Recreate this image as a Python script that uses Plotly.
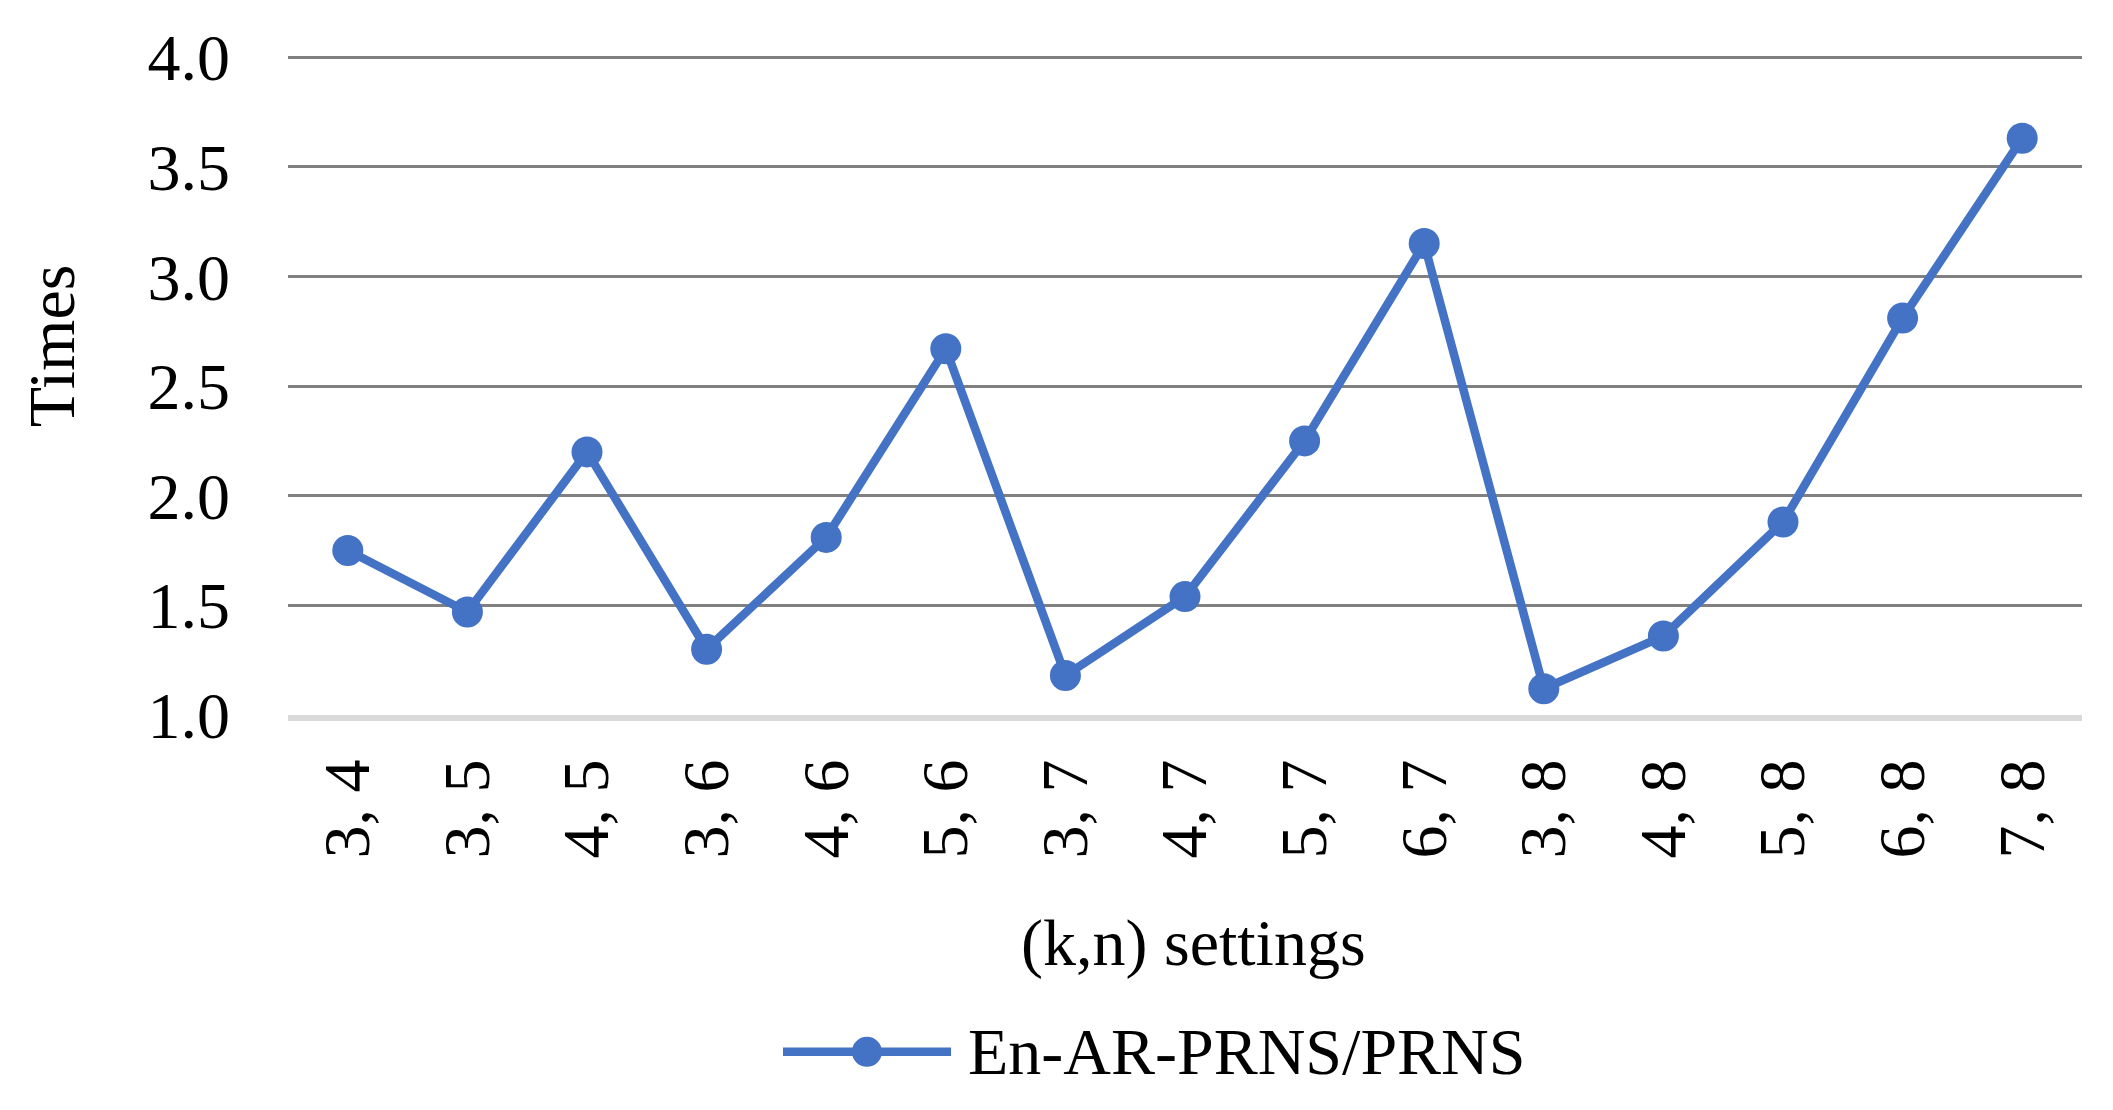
import plotly.graph_objects as go

categories = ["3, 4", "3, 5", "4, 5", "3, 6", "4, 6", "5, 6", "3, 7", "4, 7",
              "5, 7", "6, 7", "3, 8", "4, 8", "5, 8", "6, 8", "7, 8"]
ratio = [1.75, 1.47, 2.20, 1.30, 1.81, 2.67, 1.18, 1.54,
         2.25, 3.15, 1.12, 1.36, 1.88, 2.81, 3.63]
series_name = "En-AR-PRNS/PRNS"
y_ticks = [1.0, 1.5, 2.0, 2.5, 3.0, 3.5, 4.0]

FONT = "Liberation Serif, Times New Roman, serif"
BLUE = "#4472C4"

fig = go.Figure()
fig.add_trace(go.Scatter(
    x=categories, y=ratio, name=series_name, mode="lines+markers",
    line=dict(color=BLUE, width=8.5),
    marker=dict(color=BLUE, size=31),
    showlegend=False,
))

# Manual legend (bigger symbol than Plotly's native legend allows)
LEG_Y = -0.5104
fig.add_shape(type="line", xref="paper", yref="paper", x0=0.2759, x1=0.3696,
              y0=LEG_Y, y1=LEG_Y, line=dict(color=BLUE, width=8.5))
fig.add_shape(type="circle", xref="paper", yref="paper", xsizemode="pixel",
              ysizemode="pixel", xanchor=0.3227, yanchor=LEG_Y,
              x0=-15, x1=15, y0=-15, y1=15,
              fillcolor=BLUE, line=dict(color=BLUE, width=0))
fig.add_annotation(text=series_name, xref="paper", yref="paper", x=0.3779,
                   y=LEG_Y, xanchor="left", yanchor="middle", showarrow=False,
                   font=dict(size=66))

# Axis titles
fig.add_annotation(text="(k,n) settings", xref="paper", yref="paper", x=0.505,
                   y=-0.345, xanchor="center", yanchor="middle", showarrow=False,
                   font=dict(size=66))
fig.add_annotation(text="Times", xref="paper", yref="paper", x=-0.132,
                   y=0.559, xanchor="center", yanchor="middle", showarrow=False,
                   textangle=-90, font=dict(size=66))

fig.update_layout(
    width=2105, height=1102,
    margin=dict(l=280, r=31, t=47, b=395),
    paper_bgcolor="white", plot_bgcolor="white",
    font=dict(family=FONT, size=66, color="black"),
    showlegend=False,
    xaxis=dict(
        type="category", range=[-0.5, len(categories) - 0.5],
        tickangle=-90, showgrid=False, automargin=False,
        showline=True, linecolor="#D9D9D9", linewidth=6,
        ticks="", ticklabelstandoff=12, zeroline=False,
    ),
    yaxis=dict(
        range=[1.0, 4.01], tickvals=y_ticks, ticktext=[f"{v:.1f}" for v in y_ticks],
        showgrid=True, gridcolor="#808080", gridwidth=3, automargin=False,
        zeroline=False, showline=False, ticks="", ticklabelstandoff=57,
    ),
)

fig.write_html("out.html")
